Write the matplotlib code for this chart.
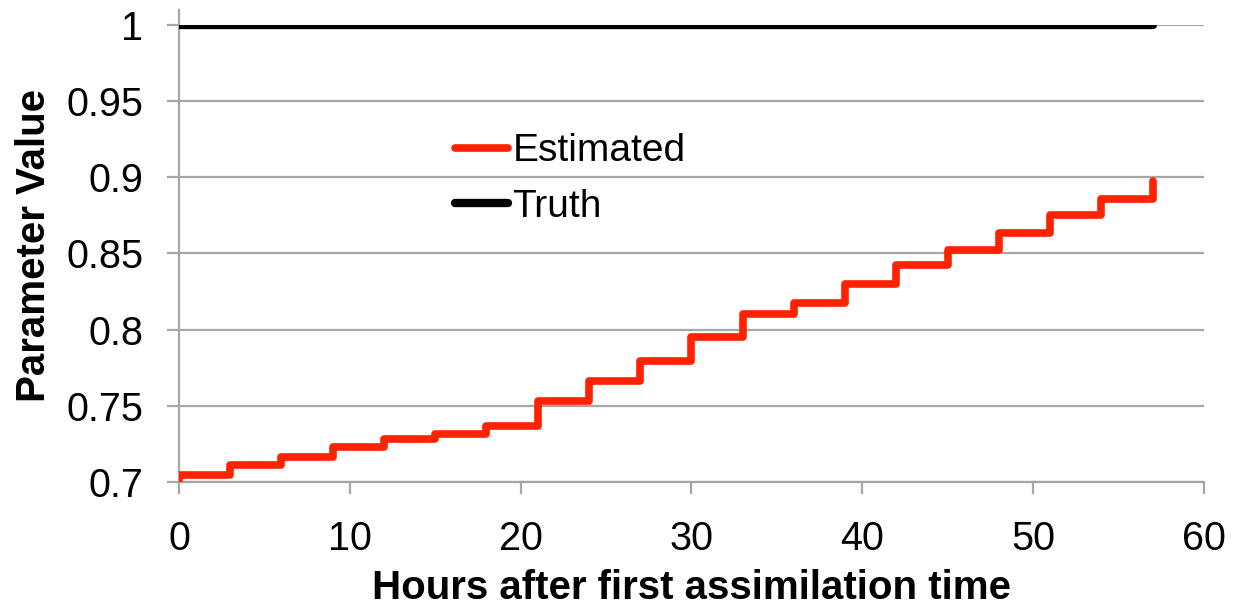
import matplotlib
matplotlib.use("Agg")
import matplotlib.pyplot as plt
from matplotlib.ticker import FuncFormatter

plt.rcParams['font.family'] = ['Liberation Sans', 'DejaVu Sans']

# --- Données ---
# heures des mises à jour (une assimilation toutes les 3 h)
heures = [0, 0, 3, 6, 9, 12, 15, 18, 21, 24, 27,
          30, 33, 36, 39, 42, 45, 48, 51, 54, 57]
# valeur estimée du paramètre (valeur initiale puis après chaque mise à jour)
estime = [0.701, 0.7046, 0.7111, 0.7162, 0.7227, 0.728, 0.7315, 0.7367,
          0.753, 0.7664, 0.7795, 0.7948, 0.8101, 0.8175, 0.830, 0.842,
          0.852, 0.8634, 0.8754, 0.8859, 0.8974]
# valeur vraie
heures_vrai = [0, 57]
vrai = [1.0, 1.0]

x_ticks = [0, 10, 20, 30, 40, 50, 60]
y_ticks = [0.7, 0.75, 0.8, 0.85, 0.9, 0.95, 1.0]

GRIS = '#a6a6a6'
ROUGE = '#ff2200'

fig = plt.figure(figsize=(12.36, 6.09), dpi=100)
ax = fig.add_axes([0.1448, 0.2085, 0.8293, 0.7512])

# Grille horizontale
ax.set_axisbelow(True)
ax.yaxis.grid(True, color=GRIS, linewidth=1.6)

# Courbes
ax.step(heures, estime, where='post', color=ROUGE, linewidth=5.5,
        solid_capstyle='round', solid_joinstyle='round', label='Estimated', zorder=3)
ax.plot(heures_vrai, vrai, color='black', linewidth=6,
        solid_capstyle='round', label='Truth', zorder=3)

ax.set_xlim(0, 60)
ax.set_ylim(0.7, 1.0)
ax.set_xticks(x_ticks)
ax.set_yticks(y_ticks)
ax.yaxis.set_major_formatter(FuncFormatter(lambda v, pos: f"{v:g}"))

# Axes
for s in ['top', 'right']:
    ax.spines[s].set_visible(False)
for s in ['left', 'bottom']:
    ax.spines[s].set_color(GRIS)
    ax.spines[s].set_linewidth(1.6)
ax.spines['left'].set_bounds(0.7, 1.0098)

ax.tick_params(axis='both', direction='out', length=8.6, width=1.6,
               color=GRIS, labelsize=28.5)
ax.tick_params(axis='y', pad=17)
ax.tick_params(axis='x', pad=19)

ax.set_xlabel("Hours after first assimilation time", fontsize=29,
              fontweight='bold', labelpad=8)
ax.set_ylabel("Parameter Value", fontsize=29, fontweight='bold')
ax.yaxis.set_label_coords(-0.123, 0.517)

ax.legend(loc='center left', bbox_to_anchor=(0.269, 0.6625), frameon=False,
          fontsize=28, handlelength=1.36, handletextpad=0.12,
          labelspacing=0.5, borderpad=0, borderaxespad=0)

fig.savefig("out.png", dpi=100)
